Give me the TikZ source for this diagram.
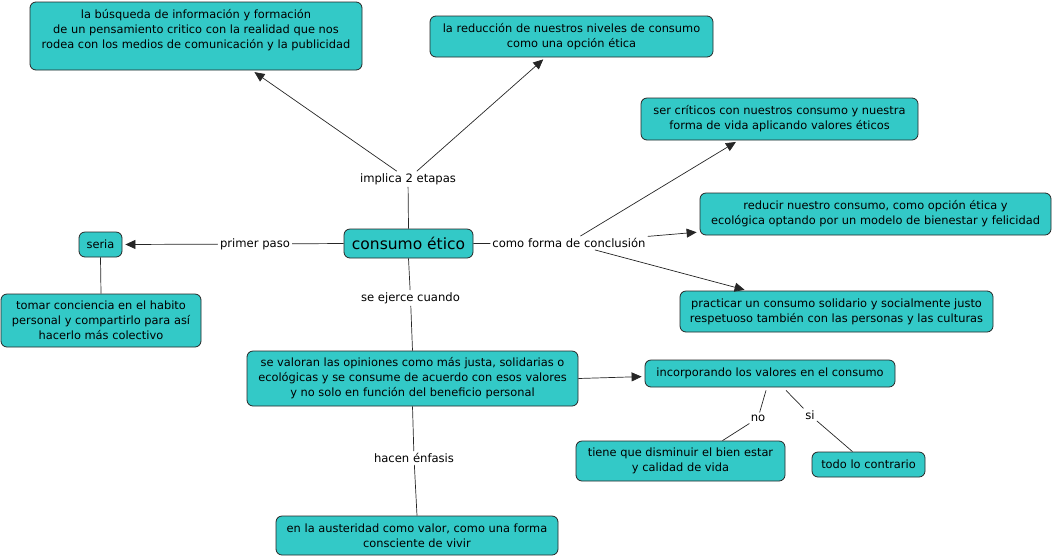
\documentclass[tikz,border=0pt]{standalone}
\usepackage{fontspec}
\setmainfont{DejaVu Sans}
\usetikzlibrary{arrows.meta,calc}
\definecolor{cmfill}{RGB}{51,201,199}
\begin{document}
\begin{tikzpicture}[x=1pt,y=-1pt,
  box/.style={draw=black!85, fill=cmfill, rounded corners=6pt, align=center, inner sep=0pt, font=\fontsize{11.4}{15}\selectfont, line width=0.8pt},
  lab/.style={inner sep=2pt, font=\fontsize{11.6}{13}\selectfont},
  conn/.style={draw=black!85, line width=0.7pt},
  arr/.style={conn, -{Triangle[length=10pt,width=9pt]}, shorten >=3pt}]
\useasboundingbox (0,0) rectangle (1054,558);
% boxes
\node[box, minimum width=332pt, minimum height=68pt] (b1) at (196,36) {la búsqueda de información y formación\\de un pensamiento critico con la realidad que nos\\rodea con los medios de comunicación y la publicidad\\\mbox{}};
\node[box, minimum width=283pt, minimum height=41pt] (b2) at (571.5,36.5) {la reducción de nuestros niveles de consumo\\como una opción ética};
\node[box, minimum width=277pt, minimum height=42pt] (b3) at (779.5,119) {ser críticos con nuestros consumo y nuestra\\forma de vida aplicando valores éticos};
\node[box, minimum width=351pt, minimum height=42pt] (b4) at (875.5,214) {reducir nuestro consumo, como opción ética y\\ecológica optando por un modelo de bienestar y felicidad};
\node[box, minimum width=313pt, minimum height=41pt] (b5) at (836.5,311.5) {practicar un consumo solidario y socialmente justo\\respetuoso también con las personas y las culturas};
\node[box, minimum width=129pt, minimum height=29pt, font=\fontsize{15.5}{18}\selectfont] (ce) at (408.5,243.5) {consumo ético};
\node[box, minimum width=43pt, minimum height=25pt] (ser) at (100.5,244.5) {seria};
\node[box, minimum width=200pt, minimum height=53pt] (tom) at (101,320.5) {tomar conciencia en el habito\\personal y compartirlo para así\\hacerlo más colectivo};
\node[box, minimum width=331pt, minimum height=55pt] (val) at (412.5,378.5) {se valoran las opiniones como más justa, solidarias o\\ecológicas y se consume de acuerdo con esos valores\\y no solo en función del beneficio personal};
\node[box, minimum width=250pt, minimum height=27pt] (inc) at (770,373.5) {incorporando los valores en el consumo};
\node[box, minimum width=209pt, minimum height=40pt] (tie) at (680.5,461) {tiene que disminuir el bien estar\\y calidad de vida};
\node[box, minimum width=113pt, minimum height=25pt] (tod) at (868.5,464.5) {todo lo contrario};
\node[box, minimum width=282pt, minimum height=39pt] (aus) at (417,535.5) {en la austeridad como valor, como una forma\\consciente de vivir};
% labels
\node[lab] (imp) at (408,179) {implica 2 etapas};
\node[lab] (pri) at (255,244) {primer paso};
\node[lab] (con) at (569,243) {como forma de conclusión};
\node[lab] (eje) at (410.5,298) {se ejerce cuando};
\node[lab] (enf) at (414,458) {hacen énfasis};
\node[lab] (no) at (758,418) {no};
\node[lab] (si) at (810,415) {si};
% connectors
\draw[conn] (ce.north) -- (imp);
\draw[arr] (imp) -- ([xshift=56pt]b1.south);
\draw[arr] (imp) -- ([xshift=-26pt]b2.south);
\draw[conn] (ce.west) -- (pri);
\draw[arr] (pri) -- (ser.east);
\draw[conn] (ser.south) -- (tom.north);
\draw[conn] (ce.east) -- (con);
\draw[arr] (con) -- ([xshift=-41pt]b3.south);
\draw[arr] (con) -- ([yshift=-18pt]b4.west);
\draw[arr] (con) -- ([xshift=-89pt]b5.north);
\draw[conn] (ce.south) -- (eje);
\draw[conn] (eje) -- (val.north);
\draw[conn] (val.south) -- (enf);
\draw[conn] (enf) -- (aus.north);
\draw[arr] (val.east) -- ([yshift=-3pt]inc.west);
\draw[conn] ([xshift=-4pt,yshift=-3pt]inc.south) -- (no);
\draw[conn] (no) -- ([xshift=42pt]tie.north);
\draw[conn] ([xshift=16pt,yshift=-3pt]inc.south) -- (si);
\draw[conn] (si) -- ([xshift=-16pt]tod.north);
\end{tikzpicture}
\end{document}
